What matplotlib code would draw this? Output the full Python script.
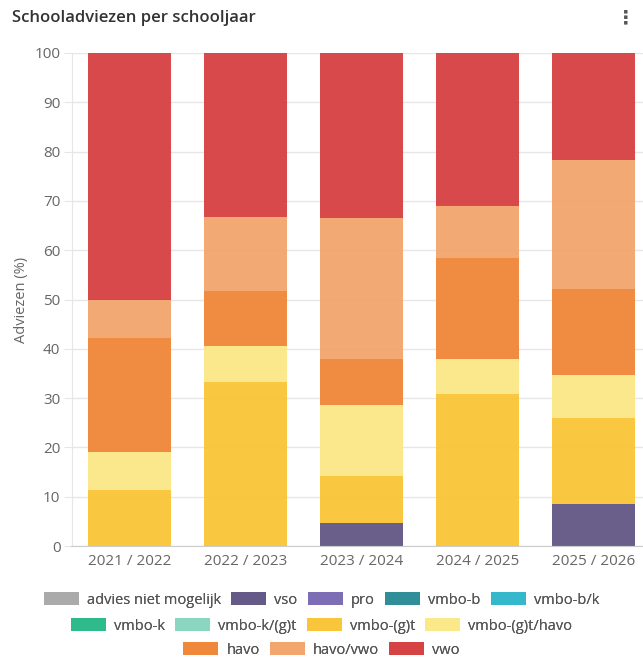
import matplotlib
matplotlib.use("Agg")
import matplotlib.pyplot as plt
import numpy as np

years = ["2021 / 2022", "2022 / 2023", "2023 / 2024", "2024 / 2025", "2025 / 2026"]
series_names = ["advies niet mogelijk", "vso", "pro", "vmbo-b", "vmbo-b/k",
                "vmbo-k", "vmbo-k/(g)t", "vmbo-(g)t", "vmbo-(g)t/havo",
                "havo", "havo/vwo", "vwo"]
colors = ["#aaaaaa", "#655a87", "#7d6db4", "#2f8e98", "#35b8cb",
          "#2fba8b", "#8bd6bf", "#f9c53a", "#fbe888",
          "#f0883b", "#f3a66e", "#d64345"]

advies_niet_mogelijk = [0, 0, 0, 0, 0]
vso = [0, 0, 4.6, 0, 8.6]
pro = [0, 0, 0, 0, 0]
vmbo_b = [0, 0, 0, 0, 0]
vmbo_bk = [0, 0, 0, 0, 0]
vmbo_k = [0, 0, 0, 0, 0]
vmbo_kgt = [0, 0, 0, 0, 0]
vmbo_gt = [11.4, 33.3, 9.6, 30.9, 17.4]
vmbo_gt_havo = [7.7, 7.3, 14.3, 7.0, 8.7]
havo = [23.1, 11.2, 9.4, 20.6, 17.4]
havo_vwo = [7.8, 14.9, 28.7, 10.4, 26.1]
vwo = [50.0, 33.3, 33.4, 31.1, 21.8]

data = [advies_niet_mogelijk, vso, pro, vmbo_b, vmbo_bk, vmbo_k, vmbo_kgt,
        vmbo_gt, vmbo_gt_havo, havo, havo_vwo, vwo]

plt.rcParams['font.family'] = ['Open Sans', 'DejaVu Sans']

fig = plt.figure(figsize=(6.43, 6.57), dpi=100)
ax = fig.add_axes([71.5/643, 1-546/657, 580/643, (546-53)/657])

x = np.arange(len(years))
bottom = np.zeros(len(years))
handles = []
for name, vals, c in zip(series_names, data, colors):
    vals = np.array(vals, dtype=float)
    b = ax.bar(x, vals, bottom=bottom, width=0.716, color=c, label=name, alpha=0.97)
    handles.append(b)
    bottom += vals

ax.set_xlim(-0.5, 4.5)
ax.set_ylim(0, 100)
ax.set_yticks(range(0, 101, 10))
ax.set_xticks(x)
ax.set_xticklabels(years)
ax.yaxis.grid(True, color="#e6e6e6", linewidth=1)
ax.set_axisbelow(True)
for s in ["top", "right"]:
    ax.spines[s].set_visible(False)
ax.spines["left"].set_color("#e6e6e6")
ax.spines["bottom"].set_color("#cccccc")
ax.tick_params(axis="both", colors="#666666", labelsize=11, length=0, pad=6)
ax.tick_params(axis="y", length=6, color="#e6e6e6", pad=2)
ax.set_ylabel("Adviezen (%)", color="#666666", fontsize=10.5, labelpad=4)

fig.text(12/643, 1-18/657, "Schooladviezen per schooljaar", fontsize=12,
         fontweight="semibold", color="#333333", va="center", ha="left")
fig.text(626/643, 1-18/657, "⋮", fontsize=14, fontweight="bold",
         color="#555555", va="center", ha="center", family="DejaVu Sans")

rows = [series_names[0:5], series_names[5:9], series_names[9:12]]
ys = [600, 626, 650]
for row, yy in zip(rows, ys):
    hs = [handles[series_names.index(n)] for n in row]
    leg = fig.legend(hs, row, loc="center", bbox_to_anchor=(0.5, 1-yy/657),
                     ncol=len(row), frameon=False, fontsize=10.5,
                     handlelength=2.4, handleheight=0.9, handletextpad=0.55,
                     columnspacing=0.7, labelcolor="#555555")
    fig.add_artist(leg)

fig.savefig("out.png", dpi=100)
